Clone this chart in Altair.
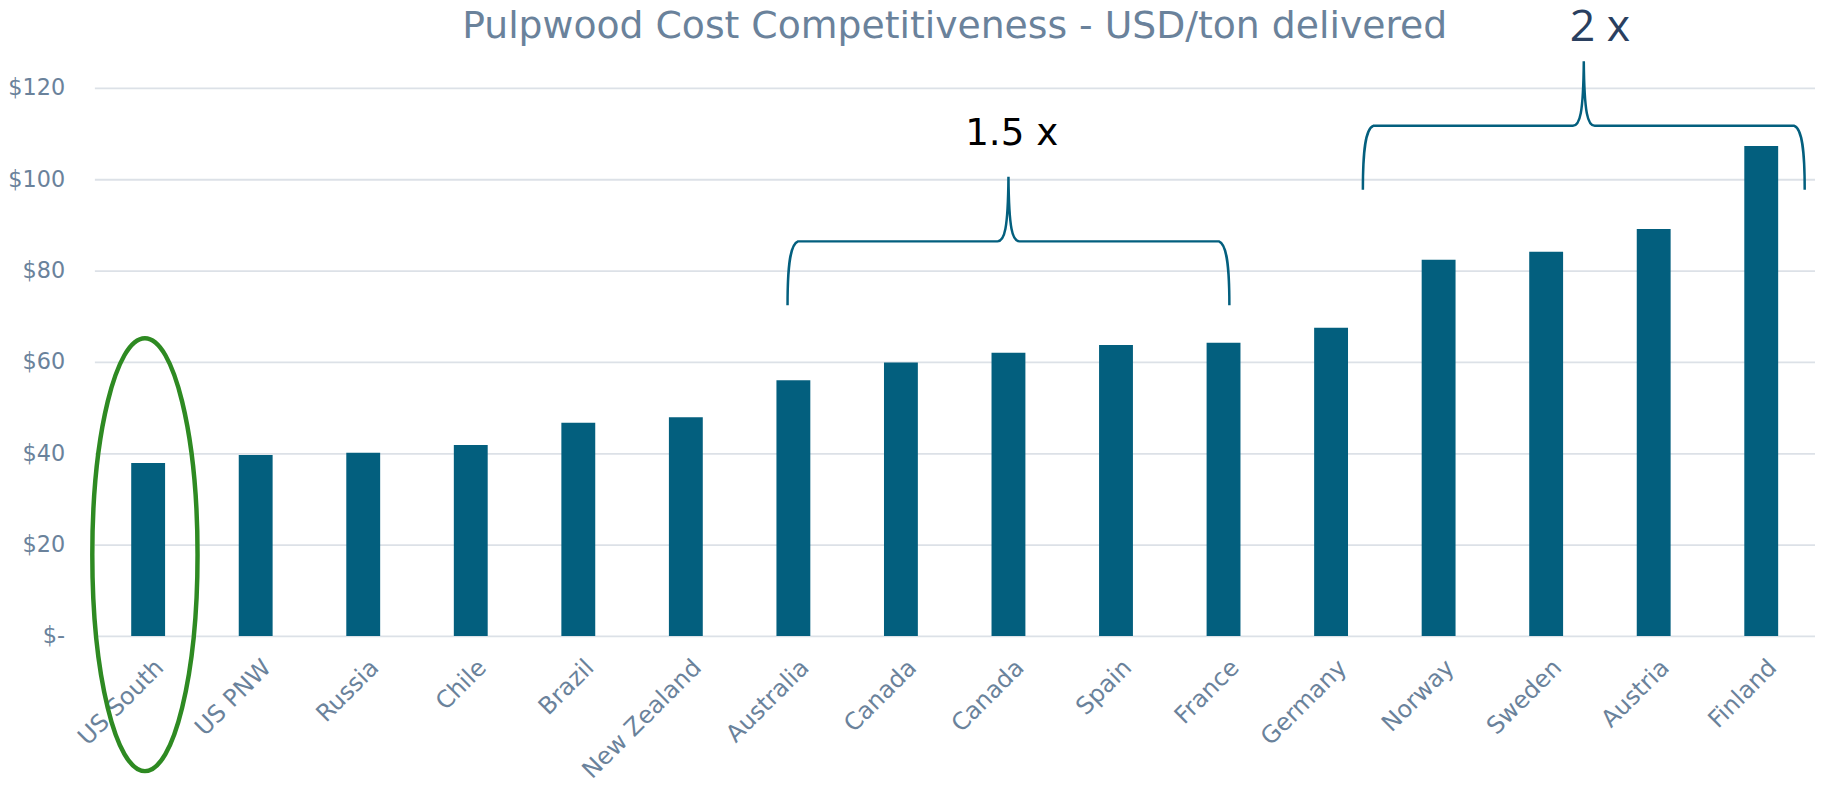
import json
import altair as alt
import pandas as pd

# ---------------- data ----------------
countries = ["US South", "US PNW", "Russia", "Chile", "Brazil", "New Zealand",
             "Australia", "Canada", "Canada", "Spain", "France", "Germany",
             "Norway", "Sweden", "Austria", "Finland"]
costs = [37.9, 39.6, 40.1, 41.8, 46.7, 47.9, 56.0, 59.9, 62.0, 63.7, 64.2,
         67.5, 82.4, 84.1, 89.1, 107.3]

y_ticks = [0, 20, 40, 60, 80, 100, 120]

title_text = "Pulpwood Cost Competitiveness - USD/ton delivered"
title_x = [7.5]
title_y = [130.9]

# highlight ellipse around the cheapest region (position in category units / USD)
ellipse_x = [-0.03]
ellipse_y = [17.8]

# braces spanning the expensive groups
brace_x = [8.0, 13.35]
brace_y = [86.4, 111.7]

# multiplier labels
mult_text_a = ["1.5 x"]
mult_x_a = [8.03]
mult_y_a = [107.5]
mult_text_b = ["2 x"]
mult_x_b = [13.5]
mult_y_b = [130.3]

# ---------------- styling ----------------
W, H = 1733, 552
BAR = "#035f7e"
LABEL = "#6a829b"
GRID = "#dce1e7"
GREEN = "#2e8a22"

def fmt(v):
    return ("%.4f" % v).rstrip("0").rstrip(".")

def path(cmds, unit):
    out = []
    for c in cmds:
        if isinstance(c, str):
            out.append(c)
        else:
            out.append(fmt(c / unit))
    return " ".join(out)

# brace shape in px relative to spike x / horizontal line, scaled to unit
BU = 222.5
brace_path = path([
    "M", -222.5, 64.4,
    "C", -222.5, 25, -220, 3, -212, 0,
    "L", -11, 0,
    "C", -4, 0, -0.5, -12, 0, -65,
    "C", 0.5, -12, 4, 0, 11, 0,
    "L", 212, 0,
    "C", 220, 3, 222.5, 25, 222.5, 64.4,
], BU)

# ellipse shape (half-height 218 px, half-width 53 px)
EU = 218.0
rx, ry, k = 53.0, 218.0, 0.5523
ellipse_path = path([
    "M", 0, -ry,
    "C", k * rx, -ry, rx, -k * ry, rx, 0,
    "C", rx, k * ry, k * rx, ry, 0, ry,
    "C", -k * rx, ry, -rx, k * ry, -rx, 0,
    "C", -rx, -k * ry, -k * rx, -ry, 0, -ry,
    "Z",
], EU)

bars_df = pd.DataFrame({"idx": list(range(len(countries))), "country": countries, "cost": costs})

label_expr = json.dumps(countries) + "[datum.value]"
y_scale = alt.Scale(domain=[0, 120], nice=False, zero=True)
xq_scale = alt.Scale(domain=[-0.5, 15.5], nice=False, zero=False)

bars = alt.Chart(bars_df).mark_bar(color=BAR).encode(
    x=alt.X("idx:O", title=None,
            scale=alt.Scale(paddingInner=0.685, paddingOuter=0.3425),
            axis=alt.Axis(labelExpr=label_expr, labelAngle=-45, labelAlign="right",
                          labelBaseline="middle", labelPadding=28, labelOffset=12,
                          labelFont="DejaVu Sans", labelFontSize=24, labelColor=LABEL,
                          ticks=False, domain=False, grid=False)),
    y=alt.Y("cost:Q", title=None, scale=y_scale,
            axis=alt.Axis(values=y_ticks,
                          labelExpr="datum.value == 0 ? '$-' : '$' + datum.value",
                          labelFont="DejaVu Sans", labelFontSize=22.5, labelColor=LABEL,
                          labelPadding=30, ticks=False, domain=False,
                          grid=True, gridColor=GRID, gridWidth=1.8)),
    tooltip=["country:N", "cost:Q"],
)

ell = alt.Chart(pd.DataFrame({"x": ellipse_x, "y": ellipse_y})).mark_point(
    shape=ellipse_path, size=(2 * EU) ** 2, filled=False, stroke=GREEN,
    strokeWidth=4.5, opacity=1,
).encode(
    x=alt.X("x:Q", scale=xq_scale, axis=None),
    y=alt.Y("y:Q", scale=y_scale, axis=None),
)

braces = alt.Chart(pd.DataFrame({"x": brace_x, "y": brace_y})).mark_point(
    shape=brace_path, size=(2 * BU) ** 2, filled=False, stroke=BAR,
    strokeWidth=2.5, opacity=1,
).encode(
    x=alt.X("x:Q", scale=xq_scale, axis=None),
    y=alt.Y("y:Q", scale=y_scale, axis=None),
)

txt_a = alt.Chart(pd.DataFrame({"x": mult_x_a, "y": mult_y_a, "t": mult_text_a})).mark_text(
    font="DejaVu Sans", fontSize=37.5, color="#000000", align="center", baseline="alphabetic",
).encode(
    x=alt.X("x:Q", scale=xq_scale, axis=None),
    y=alt.Y("y:Q", scale=y_scale, axis=None),
    text="t:N",
)

txt_b = alt.Chart(pd.DataFrame({"x": mult_x_b, "y": mult_y_b, "t": mult_text_b})).mark_text(
    font="Open Sans", fontSize=45, color="#2a3f5f", align="center", baseline="alphabetic",
).encode(
    x=alt.X("x:Q", scale=xq_scale, axis=None),
    y=alt.Y("y:Q", scale=y_scale, axis=None),
    text="t:N",
)

title = alt.Chart(pd.DataFrame({"x": title_x, "y": title_y, "t": [title_text]})).mark_text(
    font="DejaVu Sans", fontSize=38, color=LABEL, align="center", baseline="alphabetic",
).encode(
    x=alt.X("x:Q", scale=xq_scale, axis=None),
    y=alt.Y("y:Q", scale=y_scale, axis=None),
    text="t:N",
)

chart = alt.layer(bars, ell, braces, txt_a, txt_b, title).resolve_scale(
    x="independent", y="independent"
).properties(
    width=W, height=H,
    autosize=alt.AutoSizeParams(type="none"),
    padding={"left": 87, "top": 77.7, "right": 0, "bottom": 147},
    background="white",
).configure_view(stroke=None)

chart.save("out.html", embed_options={"renderer": "svg", "actions": False})
